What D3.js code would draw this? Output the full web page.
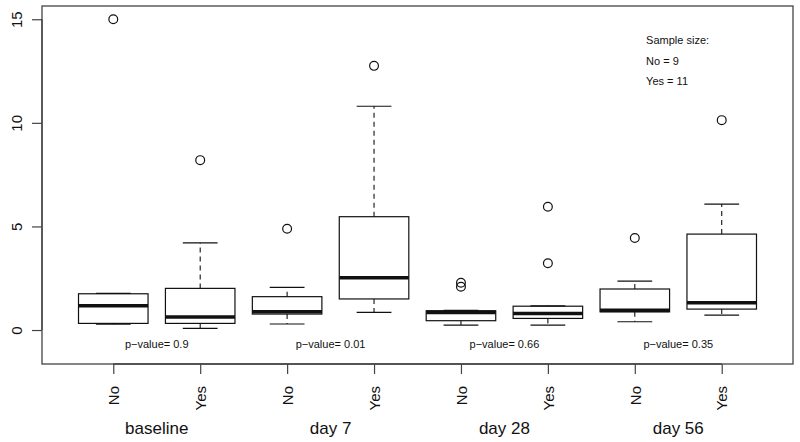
<!DOCTYPE html>
<html>
<head>
<meta charset="utf-8">
<script src="https://cdn.jsdelivr.net/npm/d3@7"></script>
<style>
  html, body { margin: 0; padding: 0; background: #fff; }
  svg text { font-family: "Liberation Sans", Arial, Helvetica, sans-serif; fill: #111; }
</style>
</head>
<body>
<svg id="chart" width="800" height="442"></svg>
<script>
// ---- data ----
const groups = ["baseline", "day 7", "day 28", "day 56"];
const boxLabels = ["No", "Yes", "No", "Yes", "No", "Yes", "No", "Yes"];
const lowWhisker = [0.28, 0.08, 0.29, 0.85, 0.24, 0.24, 0.40, 0.72];
const q1 =         [0.32, 0.32, 0.77, 1.50, 0.45, 0.56, 0.88, 1.01];
const median =     [1.17, 0.63, 0.88, 2.52, 0.85, 0.80, 0.95, 1.32];
const q3 =         [1.75, 2.01, 1.61, 5.47, 0.93, 1.15, 1.98, 4.63];
const highWhisker =[1.77, 4.21, 2.06, 10.80, 0.95, 1.17, 2.36, 6.08];
const outliers =   [[15.0], [8.2], [4.89], [12.75], [2.09, 2.28], [3.22, 5.95], [4.44], [10.13]];
const pValues = ["0.9", "0.01", "0.66", "0.35"];
const yTicks = [0, 5, 10, 15];
const sampleText = ["Sample size:", "No = 9", "Yes = 11"];

// ---- layout ----
const svg = d3.select("#chart");
const L = 42, R = 793, T = 6, B = 364;
const x = d3.scaleLinear().domain([0.18, 8.82]).range([L, R]);
const y = d3.scaleLinear().domain([-1.64, 15.64]).range([B, T]);
const positions = boxLabels.map((d, i) => i + 1);
const boxHalf = 0.4, capHalf = 0.2;

// plot frame
svg.append("rect").attr("x", L).attr("y", T).attr("width", R - L).attr("height", B - T)
  .attr("fill", "none").attr("stroke", "#444").attr("stroke-width", 1.3);

// y axis
const yAxis = d3.axisLeft(y).tickValues(yTicks).tickSize(10).tickFormat(d3.format("d"));
const gy = svg.append("g").attr("transform", `translate(${L},0)`).call(yAxis);
gy.select(".domain").remove();
gy.selectAll(".tick line").attr("stroke", "#444").attr("stroke-width", 1.2);
gy.selectAll(".tick text").attr("x", null).attr("dy", null)
  .attr("transform", "translate(-25,0) rotate(-90)")
  .attr("text-anchor", "middle").attr("dy", "0.35em")
  .style("font-size", "15px").style("font-family", "'Liberation Sans', Arial, sans-serif").attr("fill", "#111");
svg.append("line").attr("x1", L).attr("x2", L).attr("y1", y(0)).attr("y2", y(15))
  .attr("stroke", "#444").attr("stroke-width", 1.3);

// x axis
const xAxis = d3.axisBottom(x).tickValues(positions).tickSize(10).tickFormat((d, i) => boxLabels[i]);
const gx = svg.append("g").attr("transform", `translate(0,${B})`).call(xAxis);
gx.select(".domain").remove();
gx.selectAll(".tick line").attr("stroke", "#444").attr("stroke-width", 1.2);
gx.selectAll(".tick text").attr("y", null).attr("dy", null)
  .attr("transform", "translate(0,22) rotate(-90)")
  .attr("text-anchor", "end").attr("dy", "0.35em")
  .style("font-size", "15px").style("font-family", "'Liberation Sans', Arial, sans-serif").attr("fill", "#111");
svg.append("line").attr("x1", x(1)).attr("x2", x(8)).attr("y1", B).attr("y2", B)
  .attr("stroke", "#444").attr("stroke-width", 1.3);

// group labels
svg.selectAll("text.group").data(groups).join("text").attr("class", "group")
  .attr("x", (d, i) => x(2 * i + 1.5)).attr("y", 434)
  .attr("text-anchor", "middle").style("font-size", "17px").text(d => d);

// p-values
svg.selectAll("text.pval").data(pValues).join("text").attr("class", "pval")
  .attr("x", (d, i) => x(2 * i + 1.5)).attr("y", y(-0.68)).attr("dy", "0.35em")
  .attr("text-anchor", "middle").style("font-size", "11px").text(d => "p\u2212value= " + d);

// sample size
svg.selectAll("text.ss").data(sampleText).join("text").attr("class", "ss")
  .attr("x", x(7.13)).attr("y", (d, i) => y(14 - i)).attr("dy", "0.35em")
  .attr("text-anchor", "start").style("font-size", "11px").text(d => d);

// boxes
const g = svg.append("g").attr("stroke", "#111").attr("fill", "none");
positions.forEach((p, i) => {
  // whiskers
  g.append("line").attr("x1", x(p)).attr("x2", x(p)).attr("y1", y(q3[i])).attr("y2", y(highWhisker[i]))
    .attr("stroke-width", 1.1).attr("stroke-dasharray", "5,4");
  g.append("line").attr("x1", x(p)).attr("x2", x(p)).attr("y1", y(q1[i])).attr("y2", y(lowWhisker[i]))
    .attr("stroke-width", 1.1).attr("stroke-dasharray", "5,4");
  // caps
  [highWhisker[i], lowWhisker[i]].forEach(v => {
    g.append("line").attr("x1", x(p - capHalf)).attr("x2", x(p + capHalf))
      .attr("y1", y(v)).attr("y2", y(v)).attr("stroke-width", 1.2);
  });
  // box
  g.append("rect").attr("x", x(p - boxHalf)).attr("width", x(p + boxHalf) - x(p - boxHalf))
    .attr("y", y(q3[i])).attr("height", y(q1[i]) - y(q3[i])).attr("stroke-width", 1.2);
  // median
  g.append("line").attr("x1", x(p - boxHalf)).attr("x2", x(p + boxHalf))
    .attr("y1", y(median[i])).attr("y2", y(median[i])).attr("stroke-width", 3.6);
  // outliers
  outliers[i].forEach(v => {
    g.append("circle").attr("cx", x(p)).attr("cy", y(v)).attr("r", 4.4).attr("stroke-width", 1.2);
  });
});
</script>
</body>
</html>
